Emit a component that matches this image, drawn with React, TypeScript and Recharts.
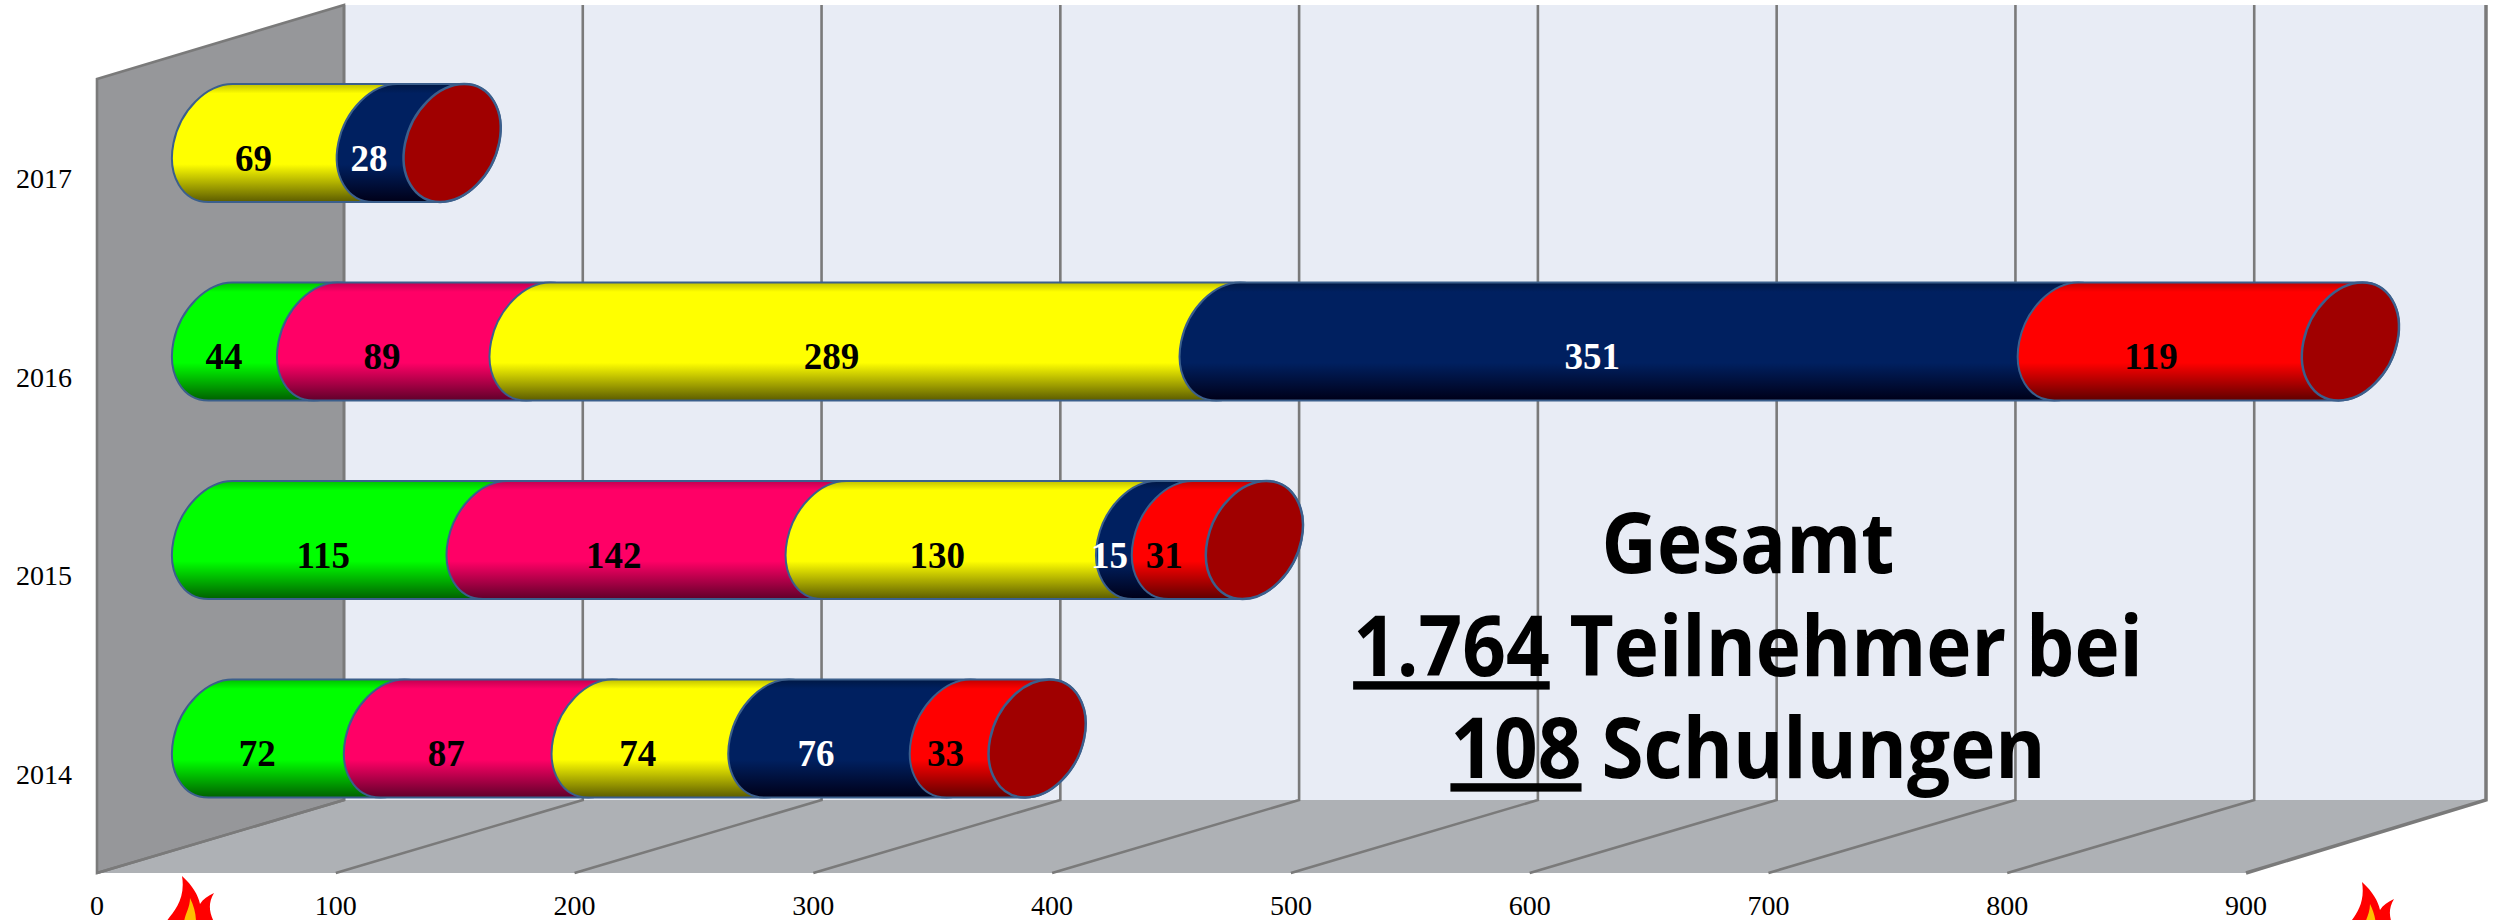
import { Bar, BarChart, CartesianGrid, LabelList, XAxis, YAxis } from 'recharts';

const years = ['2017', '2016', '2015', '2014'];
const green = [0, 44, 115, 72];
const pink = [0, 89, 142, 87];
const yellow = [69, 289, 130, 74];
const navy = [28, 351, 15, 76];
const red = [0, 119, 31, 33];
const xTicks = [0, 100, 200, 300, 400, 500, 600, 700, 800, 900];

const seriesKeys = ['green', 'pink', 'yellow', 'navy', 'red'];
const seriesColors = ['#00ff00', '#ff0066', '#ffff00', '#002060', '#ff0000'];
const seriesShades = ['#006000', '#60002a', '#5c5c00', '#000018', '#600000'];
const seriesTops = ['#00c000', '#c00050', '#c0c000', '#001844', '#c00000'];

const rows = years.map((year, i) => ({
  year,
  green: green[i],
  pink: pink[i],
  yellow: yellow[i],
  navy: navy[i],
  red: red[i],
}));

// plot area is the front plane of the 3D box, depth goes up and right
const W = 2496;
const H = 920;
const LEFT = 97;
const TOP = 79;
const BOTTOM = 873;
const PLOT_W = 2149;
const DEPTH_X = 247;
const DEPTH_Y = 73;
const BACK_RIGHT = 2486;

// half ellipse radii and shear of the cylinder ends
const RX = 47;
const SHEAR = 12;
const KAPPA = 0.5523;
const LINE = '#3b5f8c';

const serif = '"Liberation Serif", serif';

function halfLeft(cx: number, cy: number, b: number) {
  const k = KAPPA;
  return `C ${cx + SHEAR - k * RX} ${cy - b} ${cx - RX + k * SHEAR} ${cy - k * b} ${cx - RX} ${cy}
    C ${cx - RX - k * SHEAR} ${cy + k * b} ${cx - SHEAR - k * RX} ${cy + b} ${cx - SHEAR} ${cy + b}`;
}

function halfRight(cx: number, cy: number, b: number) {
  const k = KAPPA;
  return `C ${cx - SHEAR + k * RX} ${cy + b} ${cx + RX - k * SHEAR} ${cy + k * b} ${cx + RX} ${cy}
    C ${cx + RX + k * SHEAR} ${cy - k * b} ${cx + SHEAR + k * RX} ${cy - b} ${cx + SHEAR} ${cy - b}`;
}

function Cylinder(props: any) {
  const { x, y, width, height, fill, cap } = props;
  const x0 = x + DEPTH_X / 2;
  const x1 = x0 + width;
  const b = height / 2;
  const cy = y + b - DEPTH_Y / 2 + 1.5;
  const body =
    `M ${x0 + SHEAR} ${cy - b} ` +
    halfLeft(x0, cy, b) +
    ` L ${x1 - SHEAR} ${cy + b} ` +
    halfRight(x1, cy, b) +
    ' Z';
  const end =
    `M ${x1 + SHEAR} ${cy - b} ` + halfLeft(x1, cy, b) + ' ' + halfRight(x1, cy, b) + ' Z';
  return (
    <g>
      {width > 0 && <path d={body} fill={fill} stroke={LINE} strokeWidth={2} />}
      {cap && <path d={end} fill="#a00000" stroke={LINE} strokeWidth={2.5} />}
    </g>
  );
}

function SegmentLabel(props: any) {
  const { x, y, width, height, value, color, nudge = 0 } = props;
  if (!value) return null;
  const mid = x + width / 2;
  return (
    <text
      x={mid + 75 - 0.0042 * mid + nudge}
      y={y + height / 2 - 20}
      dy="0.34em"
      textAnchor="middle"
      fontFamily={serif}
      fontWeight={700}
      fontSize={37}
      fill={color}
    >
      {value}
    </text>
  );
}

function GridLine(props: any) {
  const { x1 } = props;
  const backX = Math.min(x1 + DEPTH_X, BACK_RIGHT);
  const backBottom = BOTTOM - DEPTH_Y;
  const last = backX === BACK_RIGHT;
  return (
    <path
      key={x1}
      d={`M ${backX} ${TOP - DEPTH_Y - 1} L ${backX} ${backBottom} L ${x1} ${BOTTOM}`}
      fill="none"
      stroke="#7a7a7a"
      strokeWidth={last ? 3.5 : 2.6}
    />
  );
}

function XTick(props: any) {
  const { x, payload } = props;
  return (
    <text x={x} y={915} textAnchor="middle" fontFamily={serif} fontSize={28} fill="#000">
      {payload.value}
    </text>
  );
}

function YTick(props: any) {
  const { y, payload } = props;
  return (
    <text x={16} y={y + 10} fontFamily={serif} fontSize={28} fill="#000">
      {payload.value}
    </text>
  );
}

function Flame({ dx, dy }: { dx: number; dy: number }) {
  return (
    <g transform={`translate(${dx} ${dy})`}>
      <path
        d="M 182 876 C 193 886 198 895 200 904 C 203 899 208 896 214 893 C 208 903 209 912 214 922 L 166 922 C 173 912 186 900 182 876 Z"
        fill="#ff0000"
      />
      <path d="M 190 898 C 194 906 196 914 196 922 L 184 922 C 185 914 190 908 190 898 Z" fill="#ffc000" />
    </g>
  );
}

// sits behind the chart, the grid lines have to stay on top of it
function Backdrop() {
  const backBottom = BOTTOM - DEPTH_Y;
  const backLeft = LEFT + DEPTH_X;
  const backTop = TOP - DEPTH_Y - 1;
  return (
    <svg width={W} height={H} style={{ position: 'absolute', left: 0, top: 0 }}>
      <polygon
        points={`${backLeft},${backTop} ${BACK_RIGHT},${backTop} ${BACK_RIGHT},${backBottom} ${backLeft},${backBottom}`}
        fill="#e8ecf5"
      />
      <polygon
        points={`${LEFT},${BOTTOM} ${backLeft},${backBottom} ${BACK_RIGHT},${backBottom} ${LEFT + PLOT_W},${BOTTOM}`}
        fill="#aeb1b5"
      />
      <polygon
        points={`${LEFT},${TOP} ${backLeft},${backTop} ${backLeft},${backBottom} ${LEFT},${BOTTOM}`}
        fill="#96979a"
        stroke="#7a7a7a"
        strokeWidth={2.6}
      />
    </svg>
  );
}

function Summary() {
  const common = {
    x: 0,
    textAnchor: 'middle' as const,
    fontFamily: '"Open Sans", sans-serif',
    fontWeight: 700,
    fontSize: 84,
    fill: '#000',
  };
  return (
    <g transform="translate(1748 0) scale(0.91 1)">
      <text {...common} y={573}>Gesamt</text>
      <text {...common} y={676}>
        <tspan textDecoration="underline">1.764</tspan> Teilnehmer bei
      </text>
      <text {...common} y={778}>
        <tspan textDecoration="underline">108</tspan> Schulungen
      </text>
    </g>
  );
}

export default function App() {
  return (
    <div style={{ position: 'absolute', left: 0, top: 0, width: W, height: H, background: '#fff' }}>
      <Backdrop />
      <BarChart
        width={W}
        height={H}
        data={rows}
        layout="vertical"
        barSize={118}
        margin={{ top: TOP, right: W - LEFT - PLOT_W, bottom: 0, left: 0 }}
      >
        <defs>
          {seriesKeys.map((key, i) => (
            <linearGradient key={key} id={`tube-${key}`} x1="0" y1="0" x2="0" y2="1">
              <stop offset="0%" stopColor={seriesTops[i]} />
              <stop offset="8%" stopColor={seriesColors[i]} />
              <stop offset="68%" stopColor={seriesColors[i]} />
              <stop offset="100%" stopColor={seriesShades[i]} />
            </linearGradient>
          ))}
        </defs>
        <CartesianGrid horizontal={false} vertical={GridLine} stroke="#7a7a7a" />
        <XAxis
          type="number"
          domain={[0, 900]}
          ticks={xTicks}
          height={H - BOTTOM}
          axisLine={false}
          tickLine={false}
          tick={XTick}
          interval={0}
        />
        <YAxis
          type="category"
          dataKey="year"
          width={LEFT}
          axisLine={false}
          tickLine={false}
          tick={YTick}
        />
        <Summary />
        {seriesKeys.map((key, i) => (
          <Bar
            key={key}
            dataKey={key}
            stackId="total"
            fill={`url(#tube-${key})`}
            isAnimationActive={false}
            shape={(p: any) => <Cylinder {...p} cap={i === seriesKeys.length - 1} />}
          >
            <LabelList
              dataKey={key}
              content={(p: any) => (
                <SegmentLabel
                  {...p}
                  color={key === 'navy' ? '#fff' : '#000'}
                  nudge={key === 'green' && p.value === 115 ? 15 : 0}
                />
              )}
            />
          </Bar>
        ))}
        <Flame dx={0} dy={0} />
        <Flame dx={2180} dy={6} />
      </BarChart>
    </div>
  );
}
